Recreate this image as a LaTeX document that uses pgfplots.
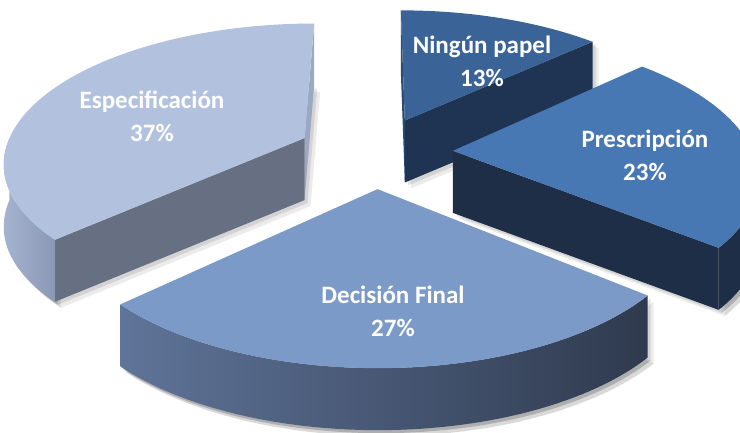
\documentclass[border=0pt]{standalone}
\usepackage{pgfplots}
\pgfplotsset{compat=1.18}
\usepackage{pgfplotstable}
\usepackage{fontspec}
\setmainfont{Carlito}

\pgfplotstableread[col sep=comma]{
label,value
Ningún papel,13
Prescripción,23
Decisión Final,27
Especificación,37
}\piedata

\pgfplotstablegetelem{0}{value}\of\piedata \let\vA\pgfplotsretval
\pgfplotstablegetelem{1}{value}\of\piedata \let\vB\pgfplotsretval
\pgfplotstablegetelem{2}{value}\of\piedata \let\vC\pgfplotsretval
\pgfplotstablegetelem{3}{value}\of\piedata \let\vD\pgfplotsretval

\pgfmathsetmacro\aZ{90}
\pgfmathsetmacro\aA{\aZ-3.6*\vA}
\pgfmathsetmacro\aB{\aA-3.6*\vB}
\pgfmathsetmacro\aC{\aB-3.6*\vC}
\pgfmathsetmacro\aD{\aC-3.6*\vD}

\definecolor{Ntop}{HTML}{3A6497}
\definecolor{Nside}{HTML}{1F3352}
\definecolor{Nsliver}{HTML}{2C4A72}
\definecolor{Etop}{HTML}{B2C2DE}
\definecolor{Erad}{HTML}{676F82}
\definecolor{EsideL}{HTML}{A4B3D0}
\definecolor{EsideR}{HTML}{8B98B5}
\definecolor{Esliver}{HTML}{9AA8C3}
\definecolor{Ptop}{HTML}{4878B3}
\definecolor{Pside}{HTML}{1F2E47}
\definecolor{Dtop}{HTML}{7B9AC7}
\definecolor{DsideL}{HTML}{5F7499}
\definecolor{DsideR}{HTML}{2F3A4E}

% top face of slice lo..hi
\newcommand\pietop[3]{%
\addplot[draw=none, #3, samples at={-1,0,...,61}, variable=\u]
 ({PX(rr(\u)*cos(tt(\u,#1,#2))+exx(#1,#2), rr(\u)*sin(tt(\u,#1,#2))+eyy(#1,#2))},
  {PY(rr(\u)*sin(tt(\u,#1,#2))+eyy(#1,#2))});
}
% outer side of slice lo..hi, visible from a to b
\newcommand\pieside[5]{%
\addplot[draw=none, #5, samples at={0,1,...,121}, variable=\u]
 ({PX(cos(ss(\u,#3,#4))+exx(#1,#2), sin(ss(\u,#3,#4))+eyy(#1,#2))},
  {PY(sin(ss(\u,#3,#4))+eyy(#1,#2))-\T*(\u>60.5)});
}
% radial face at angle #3 of slice lo..hi
\newcommand\pierad[4]{%
\addplot[fill=#4, draw=none, samples at={0,1,2,3}, variable=\u]
 ({PX(qq(\u)*cos(#3)+exx(#1,#2), qq(\u)*sin(#3)+eyy(#1,#2))},
  {PY(qq(\u)*sin(#3)+eyy(#1,#2))-\T*(\u>1.5)});
}
% soft shadow under a slice
\newcommand\pieshadow[4]{%
\pietop{#1}{#2}{fill=black, fill opacity=0.10, xshift=1.5pt, yshift=-32.5pt}
\pietop{#1}{#2}{fill=black, fill opacity=0.08, xshift=3pt, yshift=-34pt}
\pieside{#1}{#2}{#3}{#4}{fill=black, fill opacity=0.10, xshift=1.5pt, yshift=-1.5pt}
\pieside{#1}{#2}{#3}{#4}{fill=black, fill opacity=0.08, xshift=3pt, yshift=-3pt}
}
\def\T{62}

\begin{document}
\begin{tikzpicture}
\begin{axis}[
  width=370pt, height=216.5pt, scale only axis,
  xmin=0, xmax=740, ymin=0, ymax=433,
  hide axis, clip=true,
  declare function={
    kk(\yy)=1/(1+0.16*\yy);
    PX(\xx,\yy)=375+300*\xx*kk(\yy);
    PY(\yy)=281+137*\yy*kk(\yy);
    exx(\ta,\tb)=0.26*cos(((\ta)+(\tb))/2);
    eyy(\ta,\tb)=0.26*sin(((\ta)+(\tb))/2);
    rr(\uu)=and(\uu>-0.5,\uu<60.5);
    tt(\uu,\ta,\tb)=(\ta)+min(max(\uu,0),60)/60*((\tb)-(\ta));
    ss(\uu,\ta,\tb)=(\ta)+min(\uu,121-\uu)/60*((\tb)-(\ta));
    qq(\uu)=and(\uu>0.5,\uu<2.5);
  },
]
% Ningun papel
\pieshadow{\aA}{\aZ}{\aA}{\aZ}
\pierad{\aA}{\aZ}{\aZ}{Nsliver}
\pierad{\aA}{\aZ}{\aA}{Nside}
\pietop{\aA}{\aZ}{fill=Ntop}
% Especificacion
\pieshadow{\aD}{\aC}{-180}{\aC}
\pierad{\aD}{\aC}{\aD}{Esliver}
\pierad{\aD}{\aC}{\aC}{Erad}
\pieside{\aD}{\aC}{-180}{\aC}{left color=EsideL, right color=EsideR}
\pietop{\aD}{\aC}{fill=Etop}
% Prescripcion
\pieshadow{\aB}{\aA}{\aB}{0}
\pierad{\aB}{\aA}{\aB}{Pside}
\pieside{\aB}{\aA}{\aB}{0}{fill=Pside}
\pietop{\aB}{\aA}{fill=Ptop}
% Decision Final
\pieshadow{\aC}{\aB}{\aC}{\aB}
\pieside{\aC}{\aB}{\aC}{\aB}{left color=DsideL, right color=DsideR}
\pietop{\aC}{\aB}{fill=Dtop}

\tikzset{lbl/.style={text=white, font=\bfseries\fontsize{12.5}{16.5}\selectfont, align=center}}
\node[lbl] at (axis cs:482,372) {Ningún papel\\13\%};
\node[lbl] at (axis cs:645,278) {Prescripción\\23\%};
\node[lbl] at (axis cs:393,122) {Decisión Final\\27\%};
\node[lbl] at (axis cs:152,317) {Especificación\\37\%};
\end{axis}
\pgfresetboundingbox
\useasboundingbox (current axis.south west) rectangle (current axis.north east);
\end{tikzpicture}
\end{document}
